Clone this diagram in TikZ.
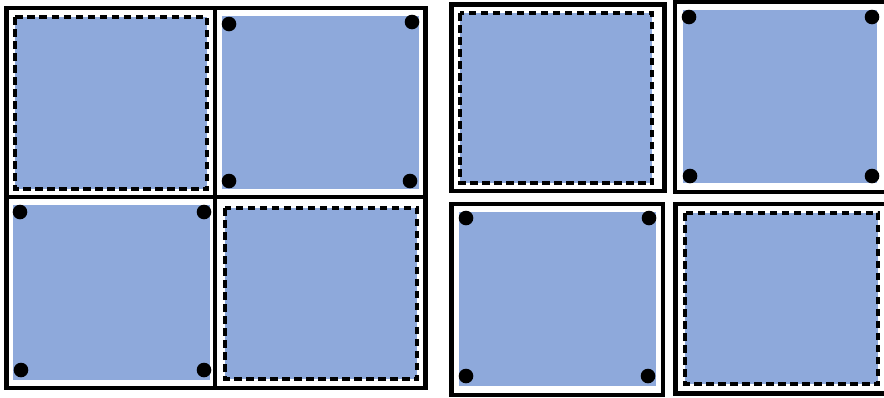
\documentclass[tikz,border=0pt]{standalone}
\definecolor{cellblue}{RGB}{142,169,219}
\begin{document}
\begin{tikzpicture}[x=1pt,y=-1pt,
  frame/.style={draw=black,line width=4.8pt},
  divider/.style={draw=black,line width=4.2pt},
  dashedblue/.style={fill=cellblue,draw=black,line width=3.3pt,dash pattern=on 7.5pt off 4.5pt},
  plainblue/.style={fill=cellblue,draw=none},
  corner/.style={fill=black,draw=none}]
\useasboundingbox (0,0) rectangle (884,397);
\fill[white] (0,0) rectangle (884,397);
% ---------- left group ----------
\path[plainblue] (222,16) rectangle (419,189);
\path[plainblue] (13,205) rectangle (210,380);
\path[dashedblue] (15,17) rectangle (207,189);
\path[dashedblue] (225,208) rectangle (417,379);
\draw[divider] (215,8) -- (215,388);
\draw[divider] (6.5,197) -- (425.5,197);
\draw[frame] (6.5,8) rectangle (425.5,388);
\foreach \p in {(229,24),(412,22),(229,181),(410,181),(20,212),(204,212),(21,370),(204,370)}
  \fill[corner] \p circle (7.3);
% ---------- right group ----------
\path[dashedblue] (460,13) rectangle (652,183);
\path[plainblue] (683,10) rectangle (877,183);
\path[plainblue] (459,212) rectangle (656,386);
\path[dashedblue] (685,213) rectangle (878,384);
\draw[frame] (451.5,4.5) rectangle (664.5,191);
\draw[frame] (675,1.5) rectangle (892,192);
\draw[frame] (451.5,204) rectangle (663,395);
\draw[frame] (675.5,204) rectangle (892,393.5);
\foreach \p in {(689,17),(872,17),(690,176),(872,176),(466,218),(649,218),(466,376),(648,376)}
  \fill[corner] \p circle (7.3);
\end{tikzpicture}
\end{document}
